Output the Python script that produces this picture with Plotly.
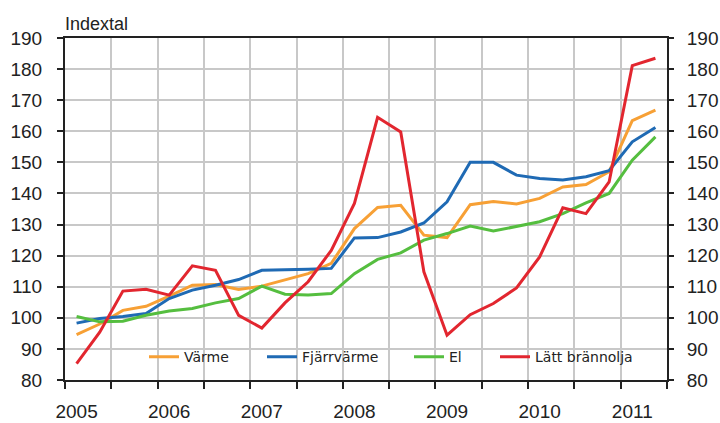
import plotly.graph_objects as go

# ---- data ----
quarters = [f"{y}Q{q}" for y in range(2005, 2012) for q in range(1, 5)][:26]
varme = [94.6, 98.0, 102.4, 103.7, 107.0, 110.5, 110.7, 109.1, 110.2, 112.1, 114.2, 117.5,
         128.7, 135.5, 136.2, 126.6, 125.8, 136.4, 137.4, 136.6, 138.4, 142.1, 142.9, 147.0,
         163.4, 166.8]
fjarrvarme = [98.3, 99.8, 100.4, 101.4, 106.2, 108.9, 110.5, 112.3, 115.3, 115.4, 115.6, 115.9,
              125.7, 125.8, 127.6, 130.5, 137.3, 150.0, 150.0, 145.9, 144.8, 144.3, 145.4, 147.3,
              156.6, 161.2]
el = [100.4, 98.7, 98.9, 100.8, 102.2, 103.0, 104.8, 106.2, 110.2, 107.6, 107.3, 107.8,
      114.2, 118.8, 120.9, 125.0, 127.1, 129.5, 127.9, 129.3, 130.9, 133.5, 137.0, 140.0,
      150.7, 158.2]
latt_brannolja = [85.3, 95.4, 108.6, 109.2, 107.3, 116.7, 115.3, 100.8, 96.7, 104.8, 111.6, 121.7,
                  136.8, 164.5, 159.8, 114.8, 94.4, 101.0, 104.6, 109.6, 119.6, 135.4, 133.5, 143.7,
                  181.1, 183.5]
series_names = ["Värme", "Fjärrvärme", "El", "Lätt brännolja"]
series_colors = ["#F7A035", "#1F6AB4", "#55BE3F", "#E2262F"]
year_labels = ["2005", "2006", "2007", "2008", "2009", "2010", "2011"]
y_ticks = list(range(80, 200, 10))

# quarter label -> numeric mid-quarter position
xq = [int(s[:4]) + (int(s[5]) - 0.5) / 4 for s in quarters]
half_years = [2005 + 0.5 * i for i in range(14)]
year_pos = [int(y) + 0.125 for y in year_labels]

PLOT_L, PLOT_W, PLOT_H = 65, 602, 342
legend_ids = ["legend", "legend2", "legend3", "legend4"]
legend_text_px = [187, 305, 452, 538]   # left edge of each legend label

fig = go.Figure()
for name, vals, col, lid in zip(series_names, [varme, fjarrvarme, el, latt_brannolja],
                                series_colors, legend_ids):
    fig.add_trace(go.Scatter(x=xq, y=vals, name=name, mode="lines", legend=lid,
                             line=dict(color=col, width=3)))
# invisible trace to carry the secondary (label) axes
fig.add_trace(go.Scatter(x=xq, y=latt_brannolja, xaxis="x2", yaxis="y2", mode="lines",
                         opacity=0, showlegend=False, hoverinfo="skip"))

tickfont = dict(family="Liberation Sans, Arial", size=19, color="#222222")
grid = "#c8c8c8"

legends = {}
for lid, px in zip(legend_ids, legend_text_px):
    legends[lid] = dict(orientation="h", x=(px - 43 - PLOT_L) / PLOT_W, xanchor="left",
                        y=0.02, yanchor="bottom", bgcolor="rgba(0,0,0,0)",
                        font=dict(family="DejaVu Sans", size=14, color="#222"))

fig.update_layout(
    width=720, height=423,
    margin=dict(l=PLOT_L, r=53, t=38, b=43),
    paper_bgcolor="white", plot_bgcolor="white",
    xaxis=dict(range=[2005, 2011.5], tickvals=half_years, showticklabels=False,
               ticks="outside", ticklen=7, tickwidth=1.5, tickcolor="#222",
               showgrid=True, gridcolor=grid, gridwidth=1.5, zeroline=False,
               showline=True, linecolor="#222", linewidth=2, mirror=True, automargin=False),
    xaxis2=dict(range=[2005, 2011.5], overlaying="x", anchor="y", side="bottom",
                tickvals=year_pos, ticktext=year_labels, ticks="", showgrid=False,
                showline=False, zeroline=False, tickfont=tickfont, ticklabelstandoff=18,
                automargin=False),
    yaxis=dict(range=[80, 190], tickvals=y_ticks, ticks="outside", ticklen=6, tickwidth=1.5,
               tickcolor="#222", showgrid=True, gridcolor=grid, gridwidth=1.5, zeroline=False,
               showline=True, linecolor="#222", linewidth=2, mirror=True,
               tickfont=tickfont, ticklabelstandoff=11, automargin=False),
    yaxis2=dict(range=[80, 190], tickvals=y_ticks, overlaying="y", anchor="x", side="right",
                ticks="outside", ticklen=6, tickwidth=1.5, tickcolor="#222",
                showgrid=False, showline=False, zeroline=False,
                tickfont=tickfont, ticklabelstandoff=9, automargin=False),
    shapes=[dict(type="rect", xref="paper", yref="paper", layer="between",
                 x0=(120 - PLOT_L) / PLOT_W, x1=(653 - PLOT_L) / PLOT_W,
                 y0=0, y1=(380 - 342) / PLOT_H, fillcolor="white", line=dict(width=0))],
    annotations=[dict(text="Indextal", xref="paper", yref="paper", x=-0.004, y=1.04,
                      xanchor="left", yanchor="middle", showarrow=False,
                      font=dict(family="Liberation Sans, Arial", size=18, color="#222"))],
    **legends,
)

fig.write_html("out.html", config={"displayModeBar": False},
               post_script="document.body.style.margin='0';document.body.style.overflow='hidden';")
